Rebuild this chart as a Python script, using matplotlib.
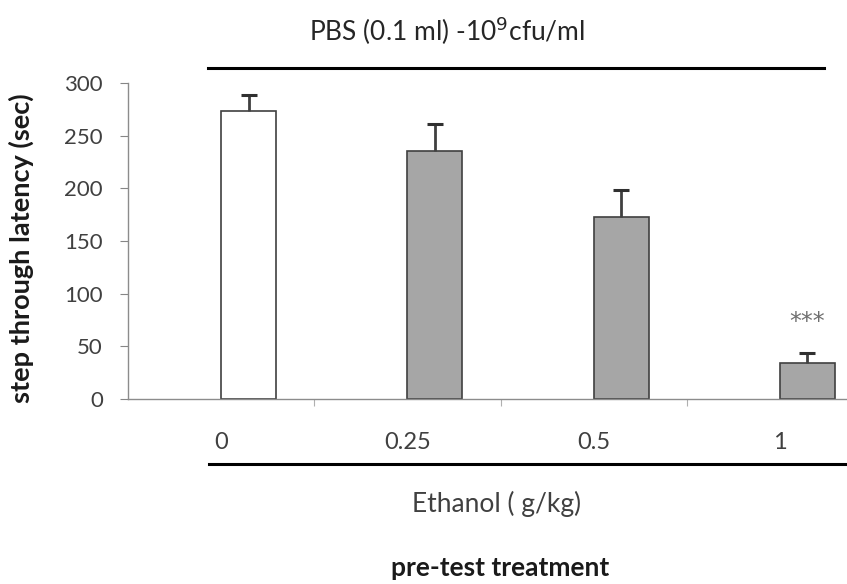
import matplotlib
matplotlib.use("Agg")
import matplotlib.pyplot as plt
from matplotlib.lines import Line2D

categories = ["0", "0.25", "0.5", "1"]
latency = [273, 235, 173, 34]
sem = [16, 26, 25, 10]
bar_colors = ["#ffffff", "#a6a6a6", "#a6a6a6", "#a6a6a6"]
yticks = [0, 50, 100, 150, 200, 250, 300]
title_txt = "PBS (0.1 ml) -10$^{9}$cfu/ml"
xlabel_txt = "Ethanol ( g/kg)"
bottom_txt = "pre-test treatment"
ylabel_txt = "step through latency (sec)"
sig_txt = "***"
sig_y = 73

plt.rcParams["font.family"] = ["Lato", "DejaVu Sans"]

W, H = 847, 584
fig = plt.figure(figsize=(W / 100, H / 100), dpi=100)
ax = fig.add_axes([128 / W, 1 - 399 / H, 745 / W, 316 / H])

x = list(range(len(categories)))
bw = 0.295
xc = [xi + bw / 2 for xi in x]
tops = [v + e for v, e in zip(latency, sem)]
ax.bar(x, latency, width=bw, align="edge", color=bar_colors,
       edgecolor="#404040", linewidth=1.2, zorder=2)
ax.errorbar(xc, latency, yerr=[[0] * len(sem), sem],
            fmt="none", ecolor="#404040", elinewidth=2, capsize=0, zorder=3)
ax.plot(xc, tops, ls="none", marker="_", markersize=12, mew=2.2,
        color="#303030", zorder=4)

ax.set_xlim(-0.5, 3.5)
ax.set_ylim(0, 300)
ax.set_yticks(yticks)
ax.set_xticks([0.5, 1.5, 2.5])
ax.set_xticklabels([])
ax.tick_params(axis="x", length=5, color="#b0b0b0", direction="out")
ax.tick_params(axis="y", length=6, color="#868686", labelsize=16,
               labelcolor="#404040", pad=12)
for s in ["top", "right"]:
    ax.spines[s].set_visible(False)
for s in ["left", "bottom"]:
    ax.spines[s].set_color("#8c8c8c")
    ax.spines[s].set_linewidth(1.0)

# category labels
for xi, lab in zip(x, categories):
    ax.text(xi, -41, lab, ha="center", va="center", fontsize=17,
            color="#404040", clip_on=False)

ax.text(3 + bw / 2, sig_y, sig_txt, ha="center", va="center", fontsize=17,
        color="#6f6f6f", family="DejaVu Sans")

# texts and lines in figure coordinates
fig.text(21 / W, 1 - 248 / H, ylabel_txt, rotation=90, ha="center",
         va="center", fontsize=19.5, fontweight="bold", color="#1a1a1a")
fig.text(447 / W, 1 - 31 / H, title_txt, ha="center", va="center",
         fontsize=19, color="#262626")
fig.add_artist(Line2D([208 / W, 824 / W], [1 - 68 / H, 1 - 68 / H],
                      color="black", lw=2.2))
fig.add_artist(Line2D([209 / W, 1.0], [1 - 464 / H, 1 - 464 / H],
                      color="black", lw=2.2))
fig.text(497 / W, 1 - 504 / H, xlabel_txt, ha="center", va="center",
         fontsize=19, color="#404040")
fig.text(500 / W, 1 - 568 / H, bottom_txt, ha="center", va="center",
         fontsize=19, fontweight="bold", color="#1a1a1a")

fig.savefig("out.png", dpi=100)
